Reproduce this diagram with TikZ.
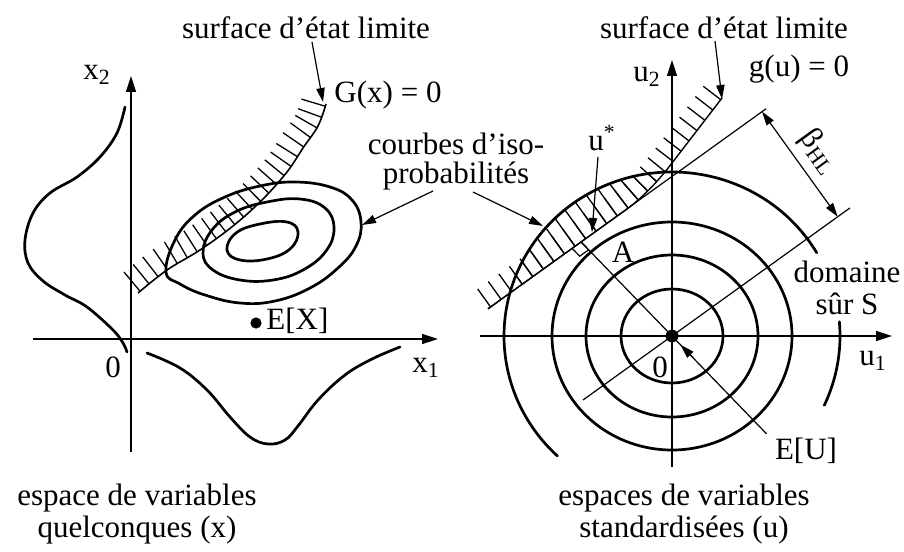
\documentclass[tikz,border=0pt]{standalone}
\usepackage{fontspec}
\setmainfont{Liberation Serif}
\usetikzlibrary{arrows.meta,decorations.markings,calc}
\begin{document}
\begin{tikzpicture}[x=0.5pt,y=-0.5pt,
  lbl/.style={font=\fontsize{15.5}{16}\selectfont, inner sep=0pt, align=center},
  axis/.style={line width=0.7pt, -{Triangle[length=8pt,width=5pt]}},
  curve/.style={line width=1.35pt, line cap=round},
  thinl/.style={line width=0.6pt},
  ptr/.style={line width=0.6pt, -{Triangle[length=7pt,width=4.2pt]}},
  dim/.style={line width=0.6pt, {Triangle[length=7pt,width=4.2pt]}-{Triangle[length=7pt,width=4.2pt]}},
  tick/.style={line width=0.65pt},
  hatchL/.style={postaction={decorate,decoration={markings,
     mark=between positions 0.01 and 1 step 5.8pt with {\draw[tick] (0pt,0pt) -- (0pt,12.5pt);}}}},
  hatchR/.style={postaction={decorate,decoration={markings,
     mark=between positions 0.01 and 1 step 6.5pt with {\draw[tick] (0pt,0pt) -- (0pt,11pt);}}}},
  hatchRlong/.style={postaction={decorate,decoration={markings,
     mark=between positions 0.01 and 1 step 6.5pt with {\draw[tick] (0pt,0pt) -- (0pt,30pt);}}}},
]
\useasboundingbox (0,0) rectangle (904,551);

% ================= LEFT PANEL =================
\coordinate (x2b) at (131,452);
\coordinate (x2t) at (131,76);
\coordinate (x1l) at (33,339);
\coordinate (x1r) at (438,339);
\draw[axis] (x2b) -- (x2t);
\draw[axis] (x1l) -- (x1r);
\node[lbl] (x2lab) at (97,75) {x\textsubscript{2}};
\node[lbl] (x1lab) at (426,368) {x\textsubscript{1}};
\node[lbl] (zeroL) at (113,367) {0};

% densities
\draw[curve] plot[smooth, tension=0.6] coordinates {(125,107) (117,133) (100,157) (77,177) (50,193) (33,213) (25,240) (28,263) (43,281) (65,295) (87,307) (113,330) (123,343) (127,352)};
\draw[curve] plot[smooth, tension=0.65] coordinates {(147,353) (180,368) (207,390) (230,417) (250,437) (268,444) (285,440) (298,426) (318,400) (345,375) (372,359) (400,347)};

% iso-probability contours
\draw[curve] plot[smooth cycle, tension=0.7] coordinates {(166,272) (175,240) (195,215) (225,197) (260,186) (295,182) (330,187) (352,200) (361,222) (356,246) (338,268) (310,288) (275,301) (240,303) (205,295) (180,284)};
\draw[curve] plot[smooth cycle, tension=0.7] coordinates {(203,253) (212,230) (235,212) (267,202) (300,199) (325,208) (334,228) (326,251) (303,270) (273,280) (240,280) (213,270)};
\draw[curve] plot[smooth cycle, tension=0.7] coordinates {(227,250) (236,233) (260,224) (287,222) (298,232) (290,249) (267,259) (240,260)};

% limit state G(x)=0 with hatching
\draw[line width=0.8pt, hatchL] plot[smooth, tension=0.6] coordinates {(138,293) (167,270) (200,250) (233,226) (262,200) (287,172) (303,148) (318,126) (326,104)};

% mean point
\fill (256,323) circle[radius=2.8pt];
\node[lbl, anchor=west] (EX) at (266,321) {E[X]};

% labels and pointers
\node[lbl] (surfL) at (306,28) {surface d'état limite};
\coordinate (surfLs) at (312,42);
\coordinate (surfLt) at (323,102);
\draw[ptr] (surfLs) -- (surfLt);
\node[lbl] (Gx) at (388,95) {G(x) = 0};

\node[lbl, font=\fontsize{15.5}{14.5}\selectfont] (courbes) at (456,162) {courbes d'iso-\\probabilités};
\coordinate (cLs) at (433,191);
\coordinate (cLt) at (362,225);
\draw[ptr] (cLs) -- (cLt);
\coordinate (cRs) at (473,192);
\coordinate (cRt) at (543,226);
\draw[ptr] (cRs) -- (cRt);

\node[lbl] (botL) at (137,514) {espace de variables\\quelconques (x)};

% ================= RIGHT PANEL =================
\coordinate (O) at (672,336);
\coordinate (u2b) at (672,467);
\coordinate (u2t) at (672,60);
\coordinate (u1l) at (480,336);
\coordinate (u1r) at (892,336);
\draw[axis] (u2b) -- (u2t);
\draw[axis] (u1l) -- (u1r);
\node[lbl] (u2lab) at (647,77) {u\textsubscript{2}};
\node[lbl] (u1lab) at (873,361) {u\textsubscript{1}};
\node[lbl] (zeroR) at (660,367) {0};

% concentric iso-probability curves
\draw[curve] (O) ellipse[x radius=25.5pt, y radius=23.5pt];
\draw[curve] (O) ellipse[x radius=43pt, y radius=40.5pt];
\draw[curve] (O) ellipse[x radius=60pt, y radius=57pt];
\draw[curve] ($(O)+(30.5:84pt and 82pt)$) arc[start angle=30.5, end angle=227, x radius=84pt, y radius=82pt];
\draw[curve] ($(O)+(5:84pt and 82pt)$) arc[start angle=5, end angle=-25, x radius=84pt, y radius=82pt];

% tangent hyperplane and parallel through origin
\coordinate (Ls) at (488,308.8);
\coordinate (Le) at (766,108.8);
\draw[thinl] (Ls) -- (Le);
\coordinate (L0s) at (583,400);
\coordinate (L0e) at (850,207.9);
\draw[thinl] (L0s) -- (L0e);

% limit state g(u)=0 with hatching
\coordinate (g0) at (488,308.8);
\coordinate (g1) at (625,210.5);
\coordinate (g2) at (672,163);
\coordinate (g3) at (722,98);
\draw[line width=0.7pt, hatchR] (g0) -- (g1) .. controls (645,196) and (660,178.6) .. (g2) -- (g3);
\begin{scope}
  \clip (O) ellipse[x radius=84pt, y radius=82pt];
  \path[hatchRlong] (g0) -- (g1) .. controls (645,196) and (660,178.6) .. (g2) -- (g3);
\end{scope}

% perpendicular through origin, foot A
\coordinate (A) at (581,241.9);
\coordinate (Pend) at (766.5,433.8);
\draw[thinl] (A) -- (Pend);
\draw[thinl] (A) -- ++(7.6,7.9) -- ++(-8.9,6.4) -- ++(-7.6,-7.9);
\node[lbl] (Alab) at (623,252) {A};

% origin dot and E[U]
\fill (O) circle[radius=3.2pt];
\coordinate (EUs) at (693,357.5);
\coordinate (EUt) at (680.5,344.8);
\draw[ptr] (EUs) -- (EUt);
\node[lbl] (EU) at (806,451) {E[U]};

% u*
\node[lbl] (ustar) at (602,138) {u\textsuperscript{*}};
\coordinate (usS) at (598,157);
\coordinate (usT) at (592,232);
\draw[ptr] (usS) -- (usT);

% beta_HL dimension
\coordinate (P1) at (762,111.6);
\coordinate (P2) at (837.7,216.8);
\draw[dim] (P1) -- (P2);
\node[lbl, rotate=-54] (beta) at (819,152) {β\kern0.6pt\textsubscript{HL}};

% labels
\node[lbl] (surfR) at (724,28) {surface d'état limite};
\coordinate (surfRs) at (715,41);
\coordinate (surfRt) at (722,99);
\draw[ptr] (surfRs) -- (surfRt);
\node[lbl] (gu) at (799,69) {g(u) = 0};
\node[lbl] (dom) at (847,288) {domaine\\sûr S};
\node[lbl] (botR) at (684,514) {espaces de variables\\standardisées (u)};
\end{tikzpicture}
\end{document}
